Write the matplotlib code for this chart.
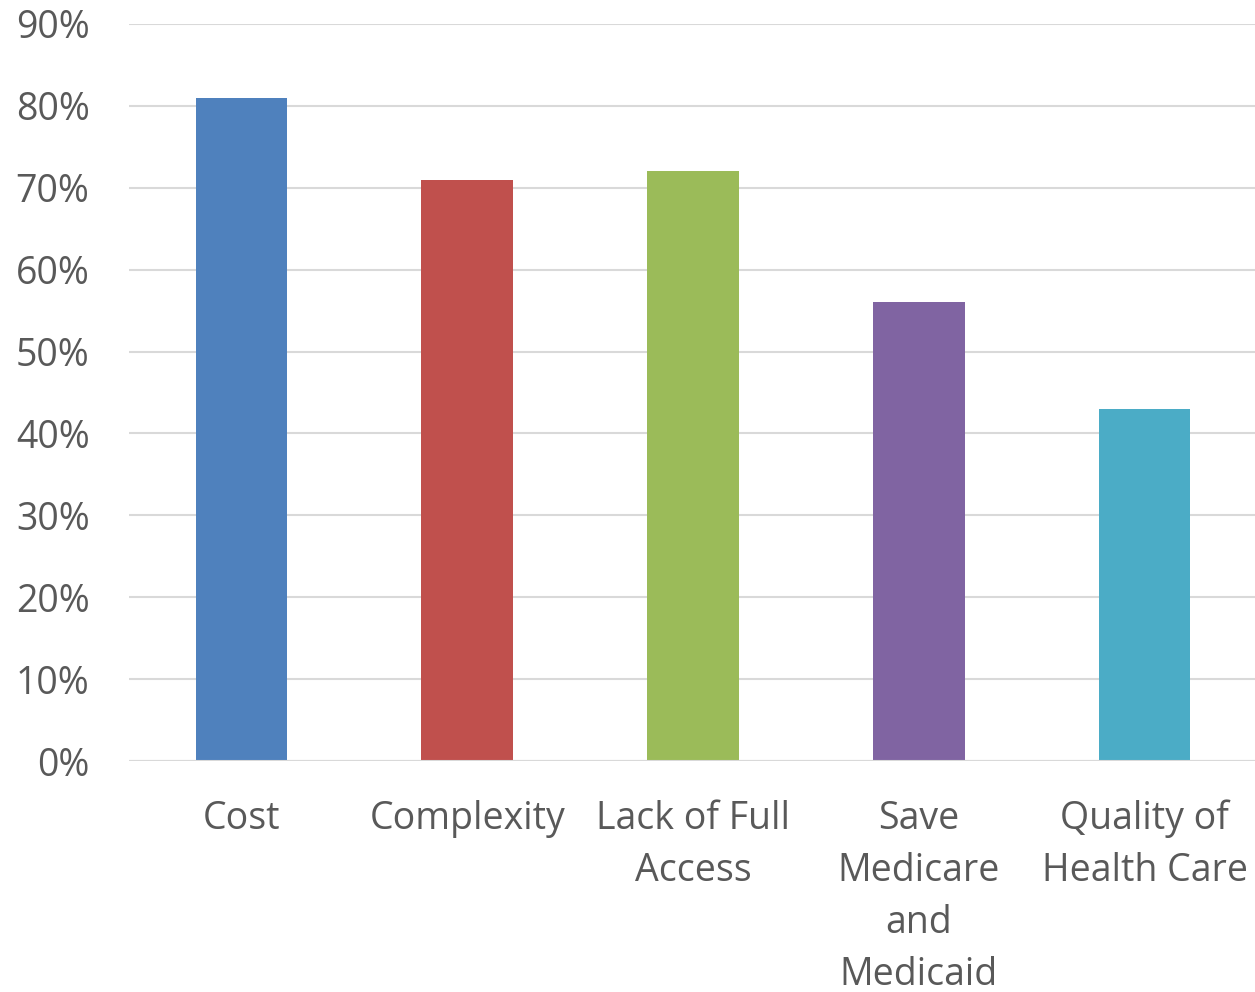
import matplotlib
matplotlib.use('Agg')
import matplotlib.pyplot as plt
from matplotlib.ticker import FuncFormatter

categories = ['Cost', 'Complexity', 'Lack of Full\nAccess', 'Save\nMedicare\nand\nMedicaid', 'Quality of\nHealth Care']
values = [0.81, 0.71, 0.72, 0.56, 0.43]
colors = ['#4F81BD', '#C0504D', '#9BBB59', '#8064A2', '#4BACC6']

plt.rcParams['font.family'] = ['Open Sans', 'DejaVu Sans']

fig = plt.figure(figsize=(12.55, 9.92), dpi=100)
ax = fig.add_axes([128.5 / 1255, 1 - 761 / 992, 1129 / 1255, (761 - 24) / 992])

x = range(len(categories))
ax.bar(x, values, width=0.405, color=colors, zorder=3)

ax.set_xlim(-0.5, len(categories) - 0.5)
ax.set_ylim(0, 0.9)
ax.set_yticks([i / 10 for i in range(10)])
ax.yaxis.set_major_formatter(FuncFormatter(lambda v, _: f'{v * 100:.0f}%'))
ax.grid(axis='y', color='#D9D9D9', linewidth=1.5, zorder=0)

for s in ax.spines.values():
    s.set_visible(False)
ax.axhline(0, color='#D9D9D9', linewidth=1.5, zorder=4)

ax.set_xticks(list(x))
ax.set_xticklabels(categories, linespacing=1.48, va='top')
ax.tick_params(axis='both', length=0, labelsize=27, colors='#595959')
ax.tick_params(axis='x', pad=28)
ax.tick_params(axis='y', pad=28)

fig.savefig('out.png', dpi=100)
